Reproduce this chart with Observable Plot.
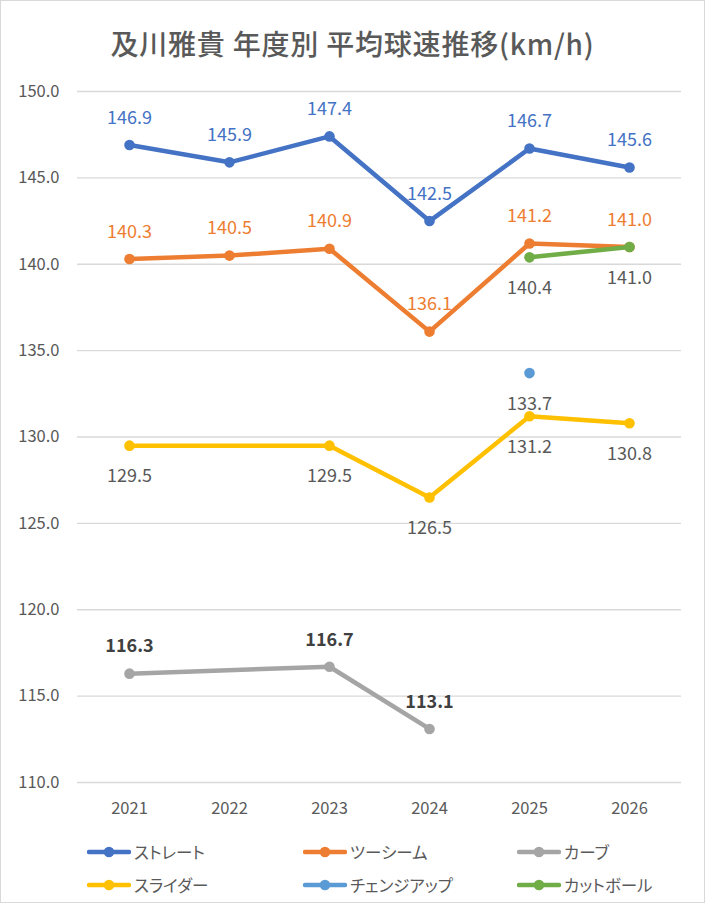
<!DOCTYPE html>
<html><head><meta charset="utf-8">
<script src="https://cdn.jsdelivr.net/npm/d3@7"></script>
<script src="https://cdn.jsdelivr.net/npm/@observablehq/plot@0.6"></script>
<style>
body{margin:0;background:#fff;}
#wrap{position:relative;width:703px;height:901px;border:1px solid #d9d9d9;font-family:"Noto Sans CJK JP",sans-serif;overflow:hidden;background:#fff}
#title{position:absolute;top:22px;left:0;width:100%;text-align:center;font-size:28px;line-height:40px;color:#595959;font-weight:500;letter-spacing:0.8px}
#chart{position:absolute;left:0;top:0}
.lg{position:absolute;height:22px;display:flex;align-items:center;font-size:16.5px;color:#595959;font-feature-settings:"palt";white-space:nowrap}
.lg svg{margin-right:3px}
</style>
</head><body>
<div id="wrap">
  <div id="chart"></div>
  <div id="title">及川雅貴 年度別 平均球速推移(km/h)</div>
  <div id="legend"></div>
</div>
<script>
const years = ["2021","2022","2023","2024","2025","2026"];
const seriesNames = ["ストレート","ツーシーム","カーブ","スライダー","チェンジアップ","カットボール"];
const seriesColors = ["#4472C4","#ED7D31","#A5A5A5","#FFC000","#5B9BD5","#70AD47"];
const straight = [146.9,145.9,147.4,142.5,146.7,145.6];
const twoSeam  = [140.3,140.5,140.9,136.1,141.2,141.0];
const curve    = [116.3,null,116.7,113.1,null,null];
const slider   = [129.5,null,129.5,126.5,131.2,130.8];
const changeup = [null,null,null,null,133.7,null];
const cutter   = [null,null,null,null,140.4,141.0];
const yTicks = [110,115,120,125,130,135,140,145,150];

const allValues = [straight,twoSeam,curve,slider,changeup,cutter];
const labelAbove = [true,true,true,false,false,false];
const labelColor = ["#4472C4","#ED7D31","#404040","#595959","#595959","#595959"];
const labelWeight = ["normal","normal","bold","normal","normal","normal"];

const rows = [];
allValues.forEach((vals,i)=>vals.forEach((v,j)=>{
  if (v!=null) rows.push({series:seriesNames[i], idx:i, year:years[j], value:v});
}));

const W = 703, H = 901;
const marks = [
  Plot.gridY(yTicks,{stroke:"#d9d9d9",strokeOpacity:1,strokeWidth:1.3}),
  Plot.axisY(yTicks,{tickSize:0,tickPadding:18,tickFormat:d=>d.toFixed(1),fontSize:16.5,fill:"#595959",label:null}),
  Plot.axisX({tickSize:0,tickPadding:20,fontSize:16.5,fill:"#595959",label:null}),
];
seriesNames.forEach((s,i)=>{
  const d = rows.filter(r=>r.idx===i);
  marks.push(Plot.line(d,{x:"year",y:"value",stroke:seriesColors[i],strokeWidth:4.5,strokeLinejoin:"round",strokeLinecap:"round"}));
  marks.push(Plot.dot(d,{x:"year",y:"value",fill:seriesColors[i],r:5.3}));
});
seriesNames.forEach((s,i)=>{
  const d = rows.filter(r=>r.idx===i);
  marks.push(Plot.text(d,{x:"year",y:"value",text:r=>r.value.toFixed(1),dy:labelAbove[i]?-27:31,fill:labelColor[i],fontWeight:labelWeight[i],fontSize:18}));
});

const chart = Plot.plot({
  width:W,height:H,
  marginLeft:76,marginRight:23,marginTop:90,marginBottom:120,
  style:{fontFamily:"'Noto Sans CJK JP', sans-serif",background:"transparent"},
  x:{type:"point",domain:years,padding:0.5},
  y:{domain:[110,150]},
  marks
});
document.getElementById("chart").appendChild(chart);

// legend
const legPos = [[86,840],[302,840],[516,840],[86,873],[302,873],[516,873]];
const lg = document.getElementById("legend");
seriesNames.forEach((s,i)=>{
  const div = document.createElement("div");
  div.className="lg";
  div.style.left = legPos[i][0]+"px";
  div.style.top = legPos[i][1]+"px";
  div.innerHTML = `<svg width="44" height="14"><line x1="2" y1="7" x2="42" y2="7" stroke="${seriesColors[i]}" stroke-width="4.5" stroke-linecap="round"/><circle cx="22" cy="7" r="5.3" fill="${seriesColors[i]}"/></svg><span>${s}</span>`;
  lg.appendChild(div);
});
</script>
</body></html>
